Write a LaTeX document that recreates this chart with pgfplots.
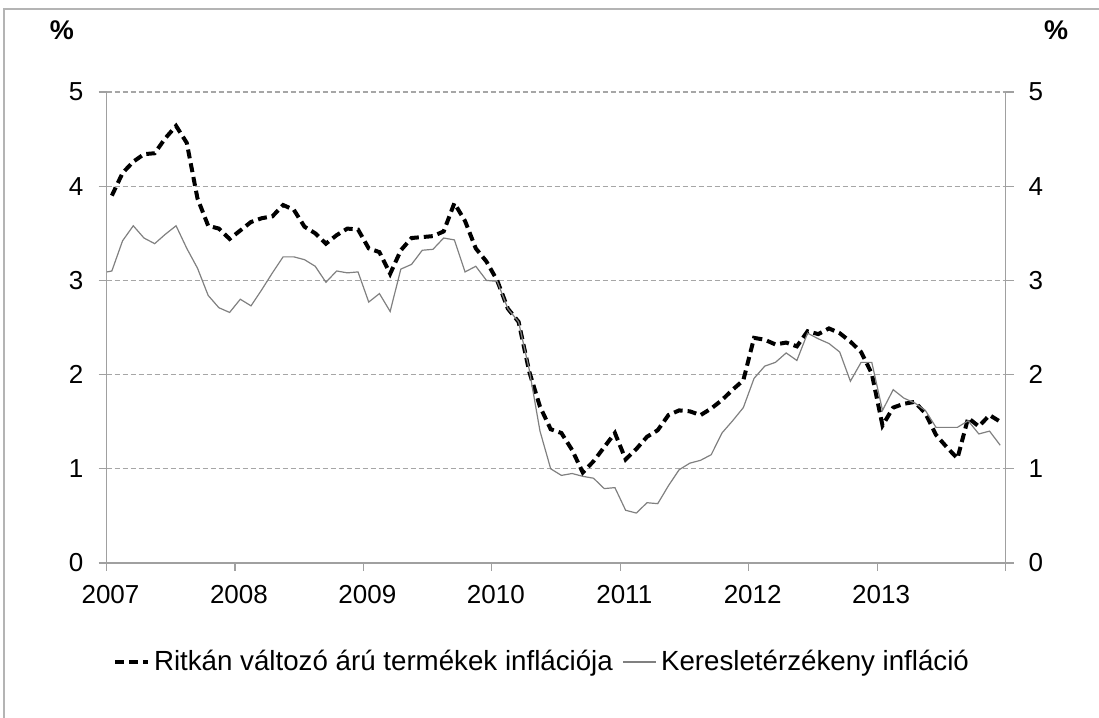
\documentclass[border=0pt]{standalone}
\usepackage{pgfplots}
\pgfplotsset{compat=1.18}
\usepackage{fontspec}
\setmainfont{Liberation Sans}
\definecolor{axisgray}{HTML}{A0A0A0}
\definecolor{gridgray}{HTML}{A6A6A6}
\definecolor{linegray}{HTML}{808080}
\definecolor{framegray}{HTML}{B4B4B4}
\begin{document}
\begin{tikzpicture}[x=1pt,y=1pt]
\useasboundingbox (0,0) rectangle (549.5,359);
\draw[color=framegray, line width=0.7pt] (2,0) -- (2,354.5) -- (549.5,354.5);
\node[font=\fontsize{13.5}{15}\selectfont\bfseries] at (31,344) {\%};
\node[font=\fontsize{13.5}{15}\selectfont\bfseries] at (528,344) {\%};
\begin{axis}[
  at={(53.25pt,77.5pt)}, anchor=south west, scale only axis,
  width=449.55pt, height=235.5pt,
  xmin=-0.5, xmax=83.5, ymin=0, ymax=5,
  axis x line*=bottom, axis y line*=left,
  axis line style={draw=axisgray, line width=0.6pt},
  xtick={-0.5,11.5,23.5,35.5,47.5,59.5,71.5,83.5},
  xticklabels={2007,2008,2009,2010,2011,2012,2013,},
  ytick={0,1,2,3,4,5},
  /pgf/number format/assume math mode=true,
  tick align=outside, major tick length=4pt,
  tick style={draw=axisgray, line width=0.6pt},
  ymajorgrids, grid style={draw=gridgray, dash pattern=on 2.5pt off 1.5pt, line width=0.6pt},
  tick label style={font=\fontsize{13}{14}\selectfont},
  xticklabel style={yshift=-3.5pt, xshift=2pt},
  yticklabel style={xshift=-4pt},
  legend columns=2,
  legend cell align=left,
  legend style={draw=none, fill=none, at={(0.4855,-0.21)}, anchor=center,
    font=\fontsize{13.85}{16}\selectfont,
    /tikz/every even column/.append style={column sep=3pt}},
  legend image code/.code={\draw[#1] (0pt,0pt) -- (16.5pt,0pt);},
]
\addplot[black, line width=2pt, dash pattern=on 4.5pt off 2.5pt] coordinates {
(0,3.90) (1,4.14) (2,4.26) (3,4.34) (4,4.35) (5,4.51) (6,4.64) (7,4.46) (8,3.87) (9,3.58)
(10,3.55) (11,3.44) (12,3.53) (13,3.62) (14,3.66) (15,3.68) (16,3.80) (17,3.75) (18,3.57) (19,3.50)
(20,3.39) (21,3.48) (22,3.55) (23,3.54) (24,3.34) (25,3.30) (26,3.07) (27,3.32) (28,3.45) (29,3.46)
(30,3.47) (31,3.52) (32,3.82) (33,3.63) (34,3.34) (35,3.20) (36,3.00) (37,2.70) (38,2.56) (39,2.03)
(40,1.66) (41,1.42) (42,1.38) (43,1.20) (44,0.96) (45,1.08) (46,1.23) (47,1.38) (48,1.10) (49,1.21)
(50,1.34) (51,1.41) (52,1.57) (53,1.62) (54,1.61) (55,1.57) (56,1.64) (57,1.73) (58,1.84) (59,1.94)
(60,2.39) (61,2.37) (62,2.32) (63,2.34) (64,2.30) (65,2.46) (66,2.43) (67,2.49) (68,2.44) (69,2.35)
(70,2.24) (71,2.01) (72,1.46) (73,1.65) (74,1.69) (75,1.71) (76,1.59) (77,1.36) (78,1.23) (79,1.11)
(80,1.54) (81,1.45) (82,1.57) (83,1.50)
};
\addlegendentry{Ritkán változó árú termékek inflációja}
\addplot[linegray, line width=0.6pt] coordinates {
(-0.45,3.09) (0,3.10) (1,3.42) (2,3.58) (3,3.45) (4,3.39) (5,3.49) (6,3.58) (7,3.34) (8,3.13) (9,2.84)
(10,2.71) (11,2.66) (12,2.80) (13,2.73) (14,2.90) (15,3.08) (16,3.25) (17,3.25) (18,3.22) (19,3.15)
(20,2.98) (21,3.10) (22,3.08) (23,3.09) (24,2.77) (25,2.86) (26,2.67) (27,3.12) (28,3.17) (29,3.32)
(30,3.33) (31,3.45) (32,3.43) (33,3.09) (34,3.15) (35,3.00) (36,2.99) (37,2.70) (38,2.56) (39,2.05)
(40,1.40) (41,1.00) (42,0.93) (43,0.95) (44,0.92) (45,0.90) (46,0.79) (47,0.80) (48,0.56) (49,0.53)
(50,0.64) (51,0.63) (52,0.82) (53,0.99) (54,1.06) (55,1.09) (56,1.15) (57,1.38) (58,1.51) (59,1.65)
(60,1.96) (61,2.09) (62,2.13) (63,2.23) (64,2.15) (65,2.44) (66,2.38) (67,2.33) (68,2.24) (69,1.93)
(70,2.13) (71,2.13) (72,1.62) (73,1.84) (74,1.75) (75,1.70) (76,1.62) (77,1.44) (78,1.44) (79,1.44)
(80,1.51) (81,1.37) (82,1.40) (83,1.25)
};
\addlegendentry{Keresletérzékeny infláció}
\end{axis}
\begin{axis}[
  at={(53.25pt,77.5pt)}, anchor=south west, scale only axis,
  width=449.55pt, height=235.5pt,
  xmin=-0.5, xmax=83.5, ymin=0, ymax=5,
  axis x line=none, axis y line*=right,
  axis line style={draw=axisgray, line width=0.6pt},
  ytick={0,1,2,3,4,5},
  /pgf/number format/assume math mode=true,
  tick align=outside, major tick length=4pt,
  tick style={draw=axisgray, line width=0.6pt},
  tick label style={font=\fontsize{13}{14}\selectfont},
  yticklabel style={xshift=4pt},
]
\addplot[draw=none] coordinates {(0,0)};
\end{axis}
\end{tikzpicture}
\end{document}
